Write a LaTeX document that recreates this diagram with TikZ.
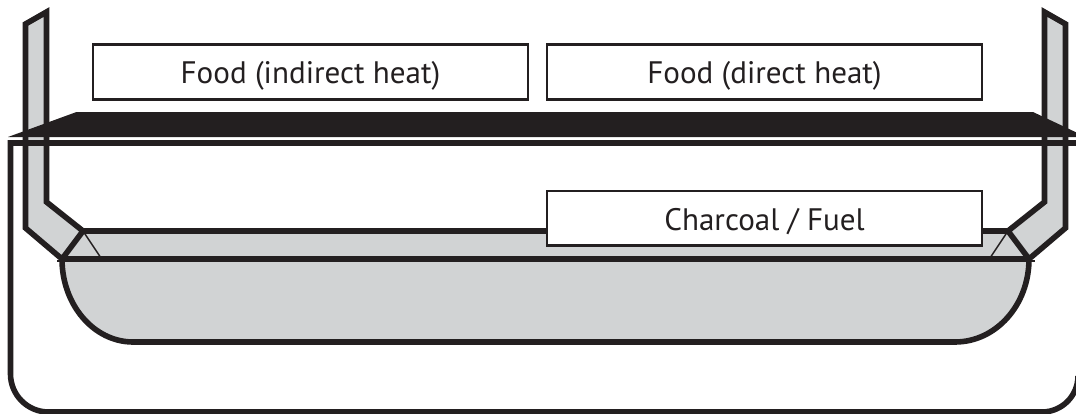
\documentclass[tikz,border=0pt]{standalone}
\usepackage{fontspec}
\setmainfont{PT Sans}
\definecolor{ink}{HTML}{231F20}
\definecolor{panfill}{HTML}{D1D3D4}
\tikzset{
  x=0.75pt,y=-0.75pt,
  thick line/.style={draw=ink,line width=4.2pt,line join=miter},
  wall/.style={thick line,fill=panfill},
  label box/.style={draw=ink,line width=2.1pt,fill=white,inner sep=0pt},
  label text/.style={text=ink,inner sep=0pt,anchor=base,font=\fontsize{23.3pt}{27pt}\selectfont},
  thin line/.style={draw=ink,line width=1.1pt}
}
\begin{document}
\begin{tikzpicture}
\useasboundingbox (0,0) rectangle (1076,414);
\begin{scope}
\clip (0,0) rectangle (1076,414);
\coordinate (pl) at (62,259);
\coordinate (pr) at (1029,259);
\coordinate (cl) at (83,231);
\coordinate (cr) at (1008,231);
% pan
\path[fill=panfill] (cl) -- (cr) -- (pr) -- (pl) -- cycle;
\draw[thick line,fill=panfill] (pl) .. controls (62,305) and (94,342) .. (133,342) -- (955,342) .. controls (996,342) and (1029,305) .. (pr);
\draw[thick line] (cl) -- (cr);
\draw[thin line] (cl) -- (101,258);
\draw[thin line] (cr) -- (990,258);
\draw[thick line] (pl) -- (pr);
\draw[thin line] (57,261) -- (1035,261);
% walls
\draw[wall] (25.5,24) -- (46.5,12) -- (46.5,202) -- (cl) -- (pl) -- (25.5,228) -- cycle;
\draw[wall] (1065.5,24) -- (1044.5,12) -- (1044.5,202) -- (cr) -- (pr) -- (1065.5,228) -- cycle;
% grill bar
\fill[ink] (8,137) -- (76.5,112) -- (1033,112) -- (1086,137) -- cycle;
% outer frame
\draw[thick line] (1078,143) -- (10.5,143) -- (10.5,374) arc[start angle=180,end angle=90,radius=38] -- (1042,412) arc[start angle=90,end angle=0,radius=36];
\end{scope}
% boxes
\draw[label box] (93,44.5) rectangle (528,99.5);
\draw[label box] (547,44.5) rectangle (982,99.5);
\draw[label box] (547,191) rectangle (982,245.5);
\node[label text] (indirect) at (310.5,83.3) {Food (indirect heat)};
\node[label text] (direct) at (764.5,83.3) {Food (direct heat)};
\node[label text] (fuel) at (764.5,230) {Charcoal / Fuel};
\end{tikzpicture}
\end{document}
